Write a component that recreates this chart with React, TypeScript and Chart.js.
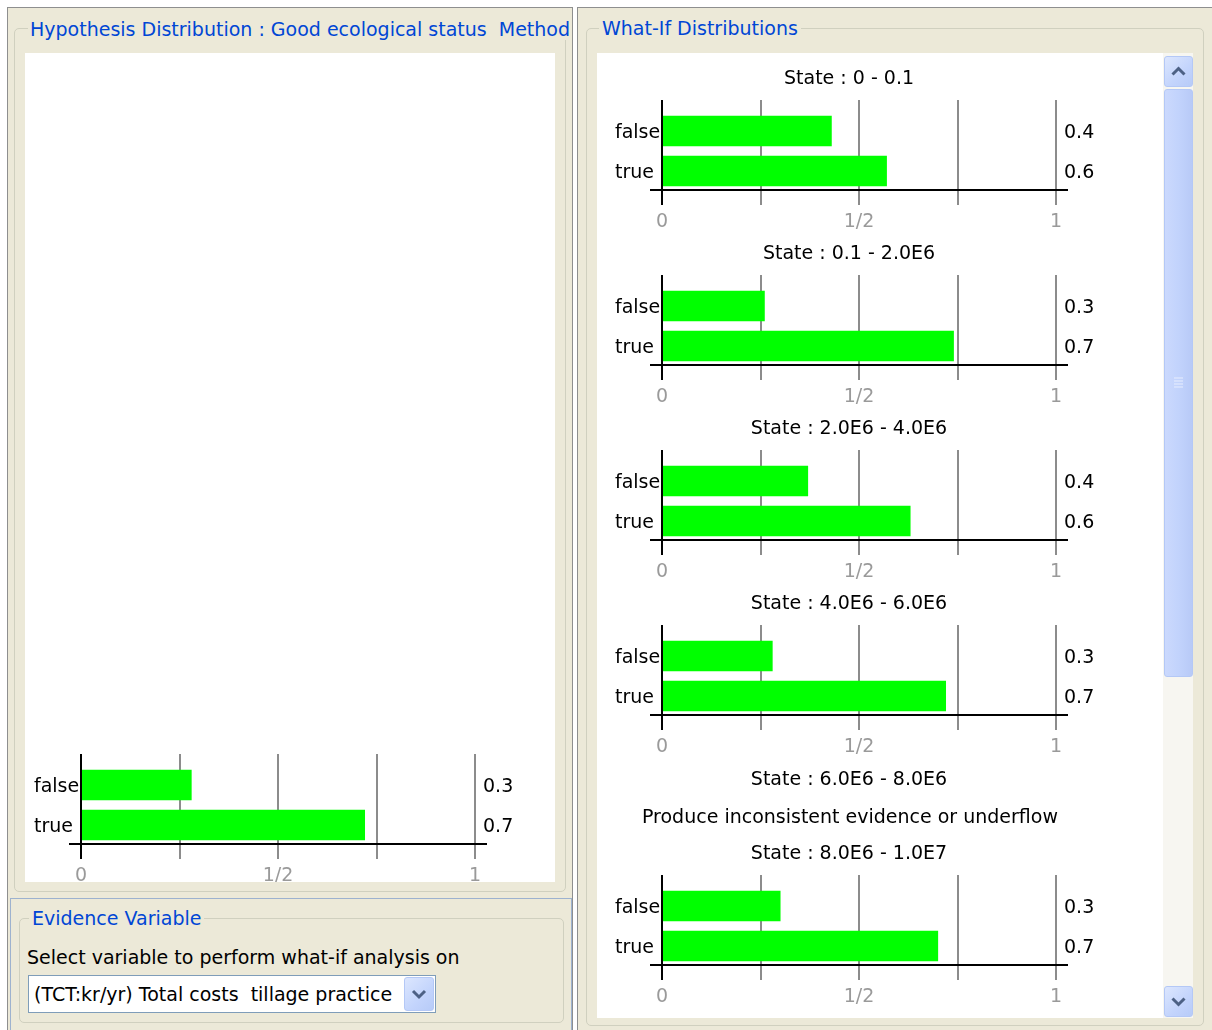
import React, { useEffect, useRef } from 'react';
import { Chart, registerables } from 'chart.js';

Chart.register(...registerables);

// ---------- data ----------
const STATES = ['false', 'true'];
const HYPOTHESIS_TITLE = 'Hypothesis Distribution : Good ecological status  Method 2';
const HYPOTHESIS_VALUES = [0.28, 0.72];
const WHATIF_TITLES = [
  'State : 0 - 0.1',
  'State : 0.1 - 2.0E6',
  'State : 2.0E6 - 4.0E6',
  'State : 4.0E6 - 6.0E6',
  'State : 6.0E6 - 8.0E6',
  'State : 8.0E6 - 1.0E7',
];
const WHATIF_FALSE: (number | null)[] = [0.43, 0.26, 0.37, 0.28, null, 0.3];
const WHATIF_TRUE: (number | null)[] = [0.57, 0.74, 0.63, 0.72, null, 0.7];
const X_TICK_VALUES = [0, 0.25, 0.5, 0.75, 1];
const X_TICK_TEXT: Record<string, string> = { '0': '0', '0.5': '1/2', '1': '1' };
const UNDERFLOW_TEXT = 'Produce inconsistent evidence or underflow';
const EVIDENCE_PROMPT = 'Select variable to perform what-if analysis on';
const EVIDENCE_VARIABLE = '(TCT:kr/yr) Total costs  tillage practice';

const FONT = "'DejaVu Sans', Verdana, sans-serif";
const BEIGE = '#ECE9D8';
const BLUE_TITLE = '#0046D5';
const GROUP_BORDER = '#D0D0BF';

type Area = { left: number; right: number; top: number; bottom: number };

function BarChart(props: { values: number[]; title?: string; width: number; height: number; area: Area; style: React.CSSProperties }) {
  const ref = useRef<HTMLCanvasElement>(null);
  useEffect(() => {
    const { values, title, width, height, area } = props;
    const decor = {
      id: 'decor',
      beforeDatasetsDraw(c: any) {
        const { ctx, chartArea: a, scales } = c;
        const x = scales.x;
        ctx.save();
        ctx.lineWidth = 2;
        ctx.strokeStyle = '#8c8c8c';
        for (const v of X_TICK_VALUES.slice(1)) {
          const px = Math.round(x.getPixelForValue(v));
          ctx.beginPath();
          ctx.moveTo(px, a.top - 11);
          ctx.lineTo(px, a.bottom + 14);
          ctx.stroke();
        }
        ctx.restore();
      },
      afterDatasetsDraw(c: any) {
        const { ctx, chartArea: a, scales } = c;
        const x = scales.x;
        const y = scales.y;
        const x0 = Math.round(x.getPixelForValue(0));
        const x1 = Math.round(x.getPixelForValue(1));
        ctx.save();
        ctx.lineWidth = 2;
        ctx.strokeStyle = '#000';
        ctx.beginPath();
        ctx.moveTo(x0, a.top - 11);
        ctx.lineTo(x0, a.bottom + 14);
        ctx.stroke();
        ctx.beginPath();
        ctx.moveTo(x0 - 12, a.bottom - 1);
        ctx.lineTo(x1 + 12, a.bottom - 1);
        ctx.stroke();
        ctx.fillStyle = '#000';
        ctx.font = `19px ${FONT}`;
        ctx.textBaseline = 'middle';
        // category labels (left of the axis, left-aligned)
        ctx.textAlign = 'left';
        STATES.forEach((s, i) => {
          ctx.fillText(s, x0 - 47, y.getPixelForValue(i) + 2);
        });
        // value labels (right of the plot)
        values.forEach((v, i) => {
          ctx.fillText(v.toFixed(1), a.right + 8, y.getPixelForValue(i) + 2);
        });
        if (title) {
          ctx.textAlign = 'center';
          ctx.fillText(title, c.width / 2, a.top - 32);
        }
        ctx.restore();
      },
    };
    const chart = new Chart(ref.current!, {
      type: 'bar',
      data: {
        labels: STATES,
        datasets: [{ data: values, backgroundColor: '#00FF00', borderWidth: 0, barThickness: 30 }],
      },
      options: {
        indexAxis: 'y',
        responsive: false,
        animation: false,
        events: [],
        layout: { padding: { top: area.top, right: width - area.right, left: 0, bottom: 0 } },
        plugins: { legend: { display: false }, tooltip: { enabled: false }, title: { display: false } },
        scales: {
          x: {
            type: 'linear',
            min: 0,
            max: 1,
            afterBuildTicks: (s: any) => {
              s.ticks = X_TICK_VALUES.map((v) => ({ value: v }));
            },
            afterFit: (s: any) => {
              s.height = height - area.bottom;
            },
            grid: { display: false, drawTicks: false, tickLength: 0 },
            border: { display: false },
            ticks: {
              callback: (v: any) => X_TICK_TEXT[String(v)] ?? '',
              color: '#9a9a9a',
              font: { family: FONT, size: 19 },
              padding: 20,
              maxRotation: 0,
              autoSkip: false,
            },
          },
          y: {
            afterFit: (s: any) => {
              s.width = area.left;
            },
            grid: { display: false, drawTicks: false, tickLength: 0 },
            border: { display: false },
            ticks: { display: false },
          },
        },
      } as any,
      plugins: [decor],
    });
    return () => chart.destroy();
  }, []);
  return (
    <canvas
      ref={ref}
      width={props.width}
      height={props.height}
      style={{ position: 'absolute', width: props.width, height: props.height, ...props.style }}
    />
  );
}

function Chevron({ up, w, h }: { up: boolean; w: number; h: number }) {
  const cx = w / 2;
  const cy = h / 2;
  const pts = up
    ? `${cx - 6},${cy + 3} ${cx},${cy - 3} ${cx + 6},${cy + 3}`
    : `${cx - 6},${cy - 3} ${cx},${cy + 3} ${cx + 6},${cy - 3}`;
  return (
    <svg width={w} height={h} style={{ position: 'absolute', left: 0, top: 0 }}>
      <polyline points={pts} fill="none" stroke="#4D6185" strokeWidth={3} />
    </svg>
  );
}

const btnStyle: React.CSSProperties = {
  position: 'absolute',
  boxSizing: 'border-box',
  border: '1px solid #B4C8F6',
  borderRadius: 3,
  background: 'linear-gradient(135deg, #DCE6FE 0%, #C3D4FC 60%, #B7CBF8 100%)',
};

function Text(props: { x: number; cy: number; text: string; color?: string; bg?: string; center?: boolean; width?: number }) {
  const st: React.CSSProperties = {
    position: 'absolute',
    top: props.cy - 11,
    height: 22,
    lineHeight: '22px',
    fontFamily: FONT,
    fontSize: 19,
    color: props.color ?? '#000',
    whiteSpace: 'pre',
    background: props.bg,
  };
  if (props.center) {
    st.left = props.x - (props.width ?? 600) / 2;
    st.width = props.width ?? 600;
    st.textAlign = 'center';
  } else {
    st.left = props.x;
  }
  return <div style={st}>{props.text}</div>;
}

export default function App() {
  const rightTops = [60, 235, 410, 585, 760, 835];
  return (
    <div style={{ position: 'fixed', left: 0, top: 0, width: 1212, height: 1030, background: '#fff', overflow: 'hidden', fontFamily: FONT }}>
      {/* left pane */}
      <div style={{ position: 'absolute', left: 7, top: 7, width: 566, height: 1040, boxSizing: 'border-box', border: '1px solid #8E8F8F', background: BEIGE, overflow: 'hidden' }}>
        <div style={{ position: 'absolute', left: 6, top: 20, width: 552, height: 864, boxSizing: 'border-box', border: `1px solid ${GROUP_BORDER}`, borderRadius: 5 }} />
        <div style={{ position: 'absolute', left: 20, top: 10, height: 22, lineHeight: '22px', padding: '0 2px', background: BEIGE, color: BLUE_TITLE, fontSize: 19, whiteSpace: 'pre' }}>{HYPOTHESIS_TITLE}</div>
        <div style={{ position: 'absolute', left: 17, top: 45, width: 530, height: 829, background: '#fff' }} />
        {/* evidence panel */}
        <div style={{ position: 'absolute', left: 2, top: 890, width: 562, height: 160, boxSizing: 'border-box', border: '1px solid #9DB2CF' }} />
        <div style={{ position: 'absolute', left: 11, top: 910, width: 545, height: 105, boxSizing: 'border-box', border: `1px solid ${GROUP_BORDER}`, borderRadius: 5 }} />
      </div>
      <BarChart values={HYPOTHESIS_VALUES} width={530} height={829} area={{ left: 56, right: 450, top: 712, bottom: 792 }} style={{ left: 25, top: 53 }} />
      <div style={{ position: 'absolute', left: 29, top: 907, height: 22, lineHeight: '22px', padding: '0 3px', background: BEIGE, color: BLUE_TITLE, fontSize: 19, whiteSpace: 'pre' }}>Evidence Variable</div>
      <Text x={27} cy={957} text={EVIDENCE_PROMPT} />
      <div style={{ position: 'absolute', left: 28, top: 975, width: 408, height: 38, boxSizing: 'border-box', border: '1px solid #7F9DB9', background: '#fff' }}>
        <div style={{ position: 'absolute', left: 5, top: 7, height: 22, lineHeight: '22px', fontSize: 19, whiteSpace: 'pre', color: '#000' }}>{EVIDENCE_VARIABLE}</div>
        <div style={{ ...btnStyle, left: 375, top: 1, width: 30, height: 34 }}>
          <Chevron up={false} w={28} h={32} />
        </div>
      </div>

      {/* right pane */}
      <div style={{ position: 'absolute', left: 577, top: 7, width: 640, height: 1040, boxSizing: 'border-box', border: '1px solid #8E8F8F', background: BEIGE }}>
        <div style={{ position: 'absolute', left: 8, top: 20, width: 618, height: 998, boxSizing: 'border-box', border: `1px solid ${GROUP_BORDER}`, borderRadius: 5 }} />
        <div style={{ position: 'absolute', left: 19, top: 45, width: 566, height: 965, background: '#fff' }} />
        {/* scrollbar */}
        <div style={{ position: 'absolute', left: 585, top: 45, width: 30, height: 965, background: '#F7F6F1' }} />
        <div style={{ ...btnStyle, left: 586, top: 48, width: 29, height: 31 }}>
          <Chevron up={true} w={27} h={29} />
        </div>
        <div style={{ ...btnStyle, left: 586, top: 81, width: 29, height: 588, background: 'linear-gradient(90deg, #CBD9FD 0%, #C2D3FC 50%, #B8CAF7 100%)' }}>
          <svg width={27} height={586} style={{ position: 'absolute', left: 0, top: 0 }}>
            {[0, 1, 2, 3].map((i) => (
              <line key={i} x1={9} x2={18} y1={288 + i * 3} y2={288 + i * 3} stroke="#E8EEFE" strokeWidth={1} />
            ))}
          </svg>
        </div>
        <div style={{ ...btnStyle, left: 586, top: 978, width: 29, height: 31 }}>
          <Chevron up={false} w={27} h={29} />
        </div>
      </div>
      <div style={{ position: 'absolute', left: 599, top: 17, height: 22, lineHeight: '22px', padding: '0 3px', background: BEIGE, color: BLUE_TITLE, fontSize: 19, whiteSpace: 'pre' }}>What-If Distributions</div>

      {WHATIF_TITLES.map((t, i) => {
        const f = WHATIF_FALSE[i];
        const tr = WHATIF_TRUE[i];
        if (f === null || tr === null) {
          return (
            <React.Fragment key={i}>
              <Text x={849} cy={rightTops[i] + 18} text={t} center />
              <Text x={850} cy={rightTops[i] + 56} text={UNDERFLOW_TEXT} center />
            </React.Fragment>
          );
        }
        return (
          <BarChart
            key={i}
            values={[f, tr]}
            title={t}
            width={504}
            height={175}
            area={{ left: 65, right: 459, top: 51, bottom: 131 }}
            style={{ left: 597, top: rightTops[i] }}
          />
        );
      })}
    </div>
  );
}
